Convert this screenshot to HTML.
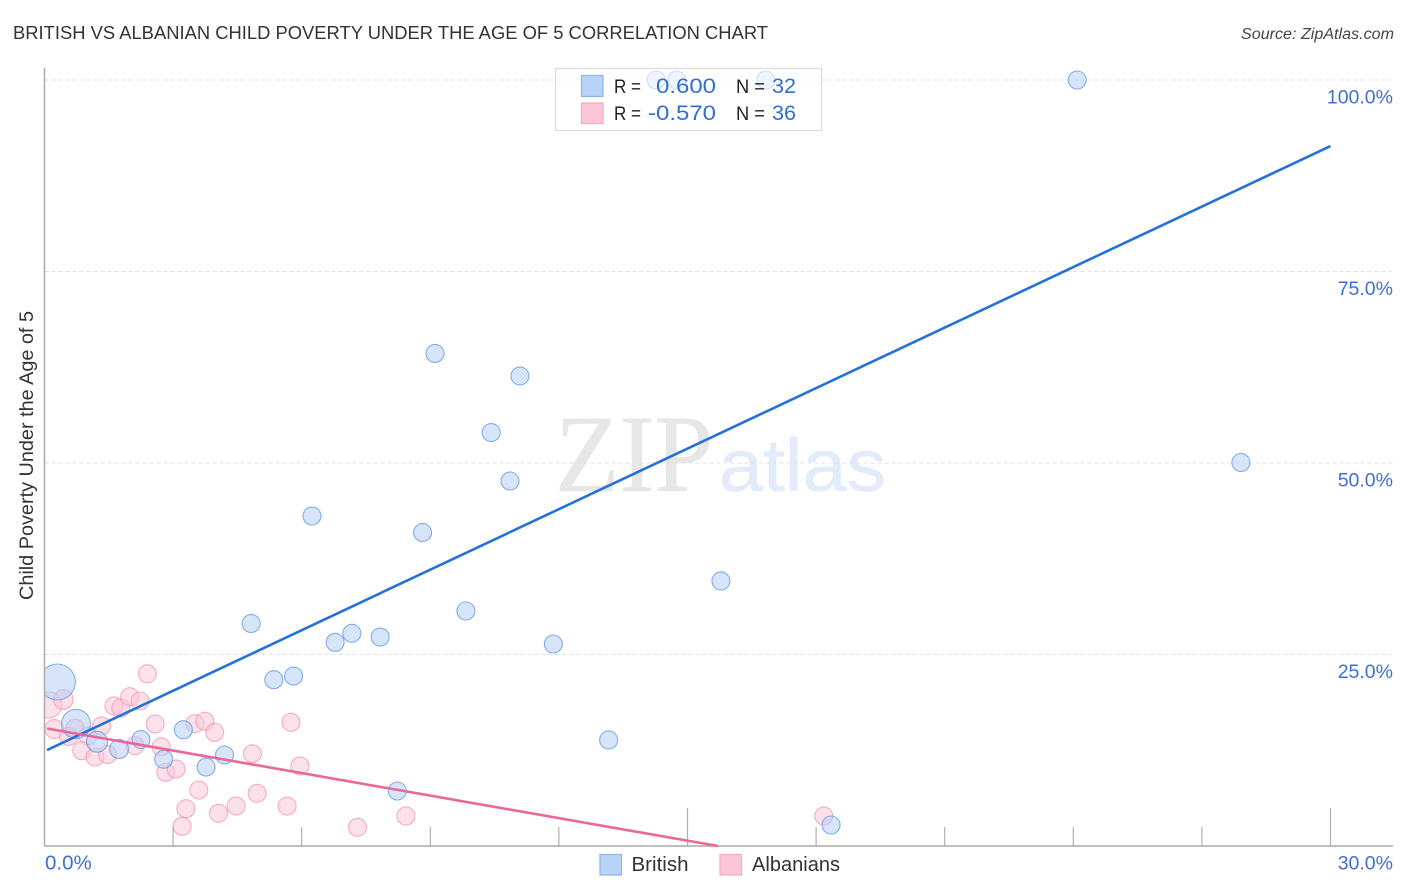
<!DOCTYPE html>
<html lang="en">
<head>
<meta charset="utf-8">
<title>British vs Albanian Child Poverty Under the Age of 5 Correlation Chart</title>
<style>
  html, body { margin: 0; padding: 0; background: #fff; }
  body { width: 1406px; height: 892px; overflow: hidden; }
  svg { display: block; font-family: "Liberation Sans", sans-serif; }
</style>
</head>
<body>
<svg id="chart" xmlns="http://www.w3.org/2000/svg" width="1406" height="892" viewBox="0 0 1406 892">
  <text x="13" y="39" font-size="18.5" fill="#333" textLength="755" lengthAdjust="spacingAndGlyphs">BRITISH VS ALBANIAN CHILD POVERTY UNDER THE AGE OF 5 CORRELATION CHART</text>
  <text x="1241" y="39" font-size="15.5" font-style="italic" fill="#444" textLength="153" lengthAdjust="spacingAndGlyphs">Source: ZipAtlas.com</text>

  <g>
    <text x="555" y="491" font-family="'Liberation Serif', serif" font-size="110" fill="#e7e7e7" stroke="#e7e7e7" stroke-width="0.6" textLength="158" lengthAdjust="spacingAndGlyphs">ZIP</text>
    <text x="719" y="491" font-size="74" fill="#e2ebf9" stroke="#e2ebf9" stroke-width="0.6" textLength="167" lengthAdjust="spacingAndGlyphs">atlas</text>
  </g>

  <g id="grid"></g>
  <g id="points"></g>
  <rect x="0" y="60" width="45" height="800" fill="#fff"></rect>
  <rect x="0" y="846" width="1406" height="20" fill="#fff"></rect>
  <g id="axes"></g>
  <g id="trends"></g>
  <g id="tick-labels"></g>

  <text transform="translate(33 455.5) rotate(-90)" font-size="19" fill="#333" text-anchor="middle" textLength="289" lengthAdjust="spacingAndGlyphs">Child Poverty Under the Age of 5</text>

  <g>
    <rect x="555.5" y="68.5" width="266" height="62" fill="#fff" fill-opacity="0.6" stroke="#dcdcdc" stroke-width="1.2"></rect>
    <rect x="581.5" y="75.5" width="21.5" height="21" fill="#b8d3f8" stroke="#8db5ea" stroke-width="1.2"></rect>
    <rect x="581.5" y="103" width="21.5" height="20.5" fill="#fdc5d8" stroke="#f5a9c3" stroke-width="1.2"></rect>
    <text x="614" y="93" font-size="19" fill="#222" textLength="27" lengthAdjust="spacingAndGlyphs">R =</text>
    <text x="656" y="93" font-size="21.5" fill="#2f6fcf" textLength="60" lengthAdjust="spacingAndGlyphs">0.600</text>
    <text x="736" y="93" font-size="19" fill="#222" textLength="29" lengthAdjust="spacingAndGlyphs">N =</text>
    <text x="772" y="93" font-size="21.5" fill="#2f6fcf" textLength="24" lengthAdjust="spacingAndGlyphs">32</text>
    <text x="614" y="120" font-size="19" fill="#222" textLength="27" lengthAdjust="spacingAndGlyphs">R =</text>
    <text x="648" y="120" font-size="21.5" fill="#2f6fcf" textLength="68" lengthAdjust="spacingAndGlyphs">-0.570</text>
    <text x="736" y="120" font-size="19" fill="#222" textLength="29" lengthAdjust="spacingAndGlyphs">N =</text>
    <text x="772" y="120" font-size="21.5" fill="#2f6fcf" textLength="24" lengthAdjust="spacingAndGlyphs">36</text>
  </g>

  <g>
    <g>
      <rect x="600" y="854.5" width="21.5" height="20.5" fill="#b8d3f8" stroke="#8db5ea" stroke-width="1.2"></rect>
      <text x="631.5" y="871" font-size="20" fill="#333" textLength="57" lengthAdjust="spacingAndGlyphs">British</text>
    </g>
    <g>
      <rect x="720" y="854.5" width="21.5" height="20.5" fill="#fdc5d8" stroke="#f5a9c3" stroke-width="1.2"></rect>
      <text x="752" y="871" font-size="20" fill="#333" textLength="88" lengthAdjust="spacingAndGlyphs">Albanians</text>
    </g>
  </g>
</svg>

<script>
const britishX = [0.30, 0.735, 1.225, 1.74, 2.25, 2.78, 3.24, 3.77, 4.20, 4.82, 5.35, 5.81, 6.78, 7.17, 7.83, 8.23, 6.24, 8.82, 9.11, 9.83, 10.42, 10.86, 11.09, 11.87, 13.16, 15.78, 18.35, 24.09, 27.91, 14.27, 14.75, 16.83];
const britishY = [21.41, 15.93, 13.62, 12.66, 13.90, 11.32, 15.18, 10.31, 11.88, 29.05, 21.71, 22.19, 26.59, 27.77, 27.28, 7.18, 43.08, 40.93, 64.30, 30.68, 53.98, 47.65, 61.36, 26.37, 13.84, 34.60, 2.74, 100, 50.07, 100, 100, 100];
const britishWeight = [4, 2.6, 1.36, 1.1, 1, 1, 1, 1, 1, 1, 1, 1, 1, 1, 1, 1, 1, 1, 1, 1, 1, 1, 1, 1, 1, 1, 1, 1, 1, 1, 1, 1];

const albanianX = [0.10, 0.44, 0.23, 0.56, 0.71, 1.01, 1.33, 0.87, 1.18, 1.47, 1.62, 1.78, 1.99, 2.23, 2.40, 2.11, 2.58, 2.72, 2.83, 3.07, 3.51, 3.74, 3.97, 4.85, 5.75, 5.96, 3.60, 3.30, 3.21, 4.06, 4.47, 4.96, 5.66, 7.30, 8.43, 18.18];
const albanianY = [18.41, 19.13, 15.27, 14.30, 15.40, 14.36, 15.67, 12.44, 11.62, 11.95, 18.28, 18.02, 19.49, 18.93, 22.49, 13.09, 15.93, 12.96, 9.62, 10.05, 15.97, 16.28, 14.84, 12.05, 16.15, 10.44, 7.31, 4.87, 2.57, 4.27, 5.22, 6.88, 5.22, 2.44, 3.92, 3.92];
const albanianWeight = [2.1, 1.2, 1.1, 1, 1, 1, 1, 1, 1, 1, 1, 1, 1, 1, 1, 1, 1, 1, 1, 1, 1, 1, 1, 1, 1, 1, 1, 1, 1, 1, 1, 1, 1, 1, 1, 1];

const britishTrendX = [0.06, 30];
const britishTrendY = [12.53, 91.38];
const albanianTrendX = [0.06, 15.71];
const albanianTrendY = [15.34, 0];

const xTickValues = [3, 6, 9, 12, 15, 18, 21, 24, 27, 30];
const xMajorTicks = [15, 30];
const xLabelValues = [0, 30];
const xLabelText = ['0.0%', '30.0%'];
const yTickValues = [25, 50, 75, 100];
const yLabelText = ['25.0%', '50.0%', '75.0%', '100.0%'];

const NS = 'http://www.w3.org/2000/svg';
const plot = { left: 44.5, right: 1330.5, top: 68, bottom: 846, y100: 80, labelRight: 1393 };
const BASE_RADIUS = 9;

function xScale(v) { return plot.left + (v / 30) * (plot.right - plot.left); }
function yScale(v) { return plot.bottom - (v / 100) * (plot.bottom - plot.y100); }
function rScale(w) { return BASE_RADIUS * Math.sqrt(w); }

function make(tag, attrs, parent) {
  const el = document.createElementNS(NS, tag);
  for (const k in attrs) el.setAttribute(k, attrs[k]);
  parent.appendChild(el);
  return el;
}

const gridGroup = document.getElementById('grid');
const axesGroup = document.getElementById('axes');
const pointsGroup = document.getElementById('points');
const trendGroup = document.getElementById('trends');
const labelGroup = document.getElementById('tick-labels');

yTickValues.forEach(function (v, i) {
  const line = make('line', { x1: plot.left, x2: plot.labelRight, y1: yScale(v), y2: yScale(v), stroke: '#e0e0e0', 'stroke-width': 1, 'stroke-dasharray': '4 3' }, gridGroup);
  
  
  const label = make('text', { x: plot.labelRight, y: yScale(v) + 23.5, 'text-anchor': 'end', 'font-size': 19.5, fill: '#3f70d0' }, labelGroup);
  label.textContent = yLabelText[i];
  
  
});

xTickValues.forEach(function (v) {
  const topY = xMajorTicks.indexOf(v) >= 0 ? plot.bottom - 38 : plot.bottom - 19;
  const tick = make('line', { x1: xScale(v), x2: xScale(v), y1: topY, y2: plot.bottom, stroke: '#b0b0b0', 'stroke-width': 1.2 }, axesGroup);
  
  
});

xLabelValues.forEach(function (v, i) {
  const anchor = i === 0 ? 'start' : 'end';
  const px = i === 0 ? xScale(v) + 0.5 : plot.labelRight;
  const label = make('text', { x: px, y: 869.5, 'text-anchor': anchor, 'font-size': i === 0 ? 20.5 : 19.5, fill: '#3f70d0' }, labelGroup);
  label.textContent = xLabelText[i];
  
  
});

const yAxisLine = make('line', { x1: plot.left, x2: plot.left, y1: plot.top, y2: plot.bottom, stroke: '#aaaaaa', 'stroke-width': 1.5 }, axesGroup);


const xAxisLine = make('line', { x1: plot.left, x2: plot.labelRight, y1: plot.bottom, y2: plot.bottom, stroke: '#aaaaaa', 'stroke-width': 1.5 }, axesGroup);



albanianX.forEach(function (v, i) {
  const c = make('circle', { cx: xScale(v), cy: yScale(albanianY[i]), r: rScale(albanianWeight[i]), fill: '#fbc3d6', 'fill-opacity': 0.5, stroke: '#ee8fb0', 'stroke-opacity': 0.7, 'stroke-width': 1.1 }, pointsGroup);
  
  
});

britishX.forEach(function (v, i) {
  const c = make('circle', { cx: xScale(v), cy: yScale(britishY[i]), r: rScale(britishWeight[i]), fill: '#b5d0f5', 'fill-opacity': 0.55, stroke: '#5f95de', 'stroke-opacity': 0.75, 'stroke-width': 1.1 }, pointsGroup);
  
  
});

const britishLine = make('line', { x1: xScale(britishTrendX[0]), y1: yScale(britishTrendY[0]), x2: xScale(britishTrendX[1]), y2: yScale(britishTrendY[1]), stroke: '#2471d8', 'stroke-width': 2.6 }, trendGroup);


const albanianLine = make('line', { x1: xScale(albanianTrendX[0]), y1: yScale(albanianTrendY[0]), x2: xScale(albanianTrendX[1]), y2: yScale(albanianTrendY[1]), stroke: '#e8689a', 'stroke-width': 2.6 }, trendGroup);


</script>
</body>
</html>
